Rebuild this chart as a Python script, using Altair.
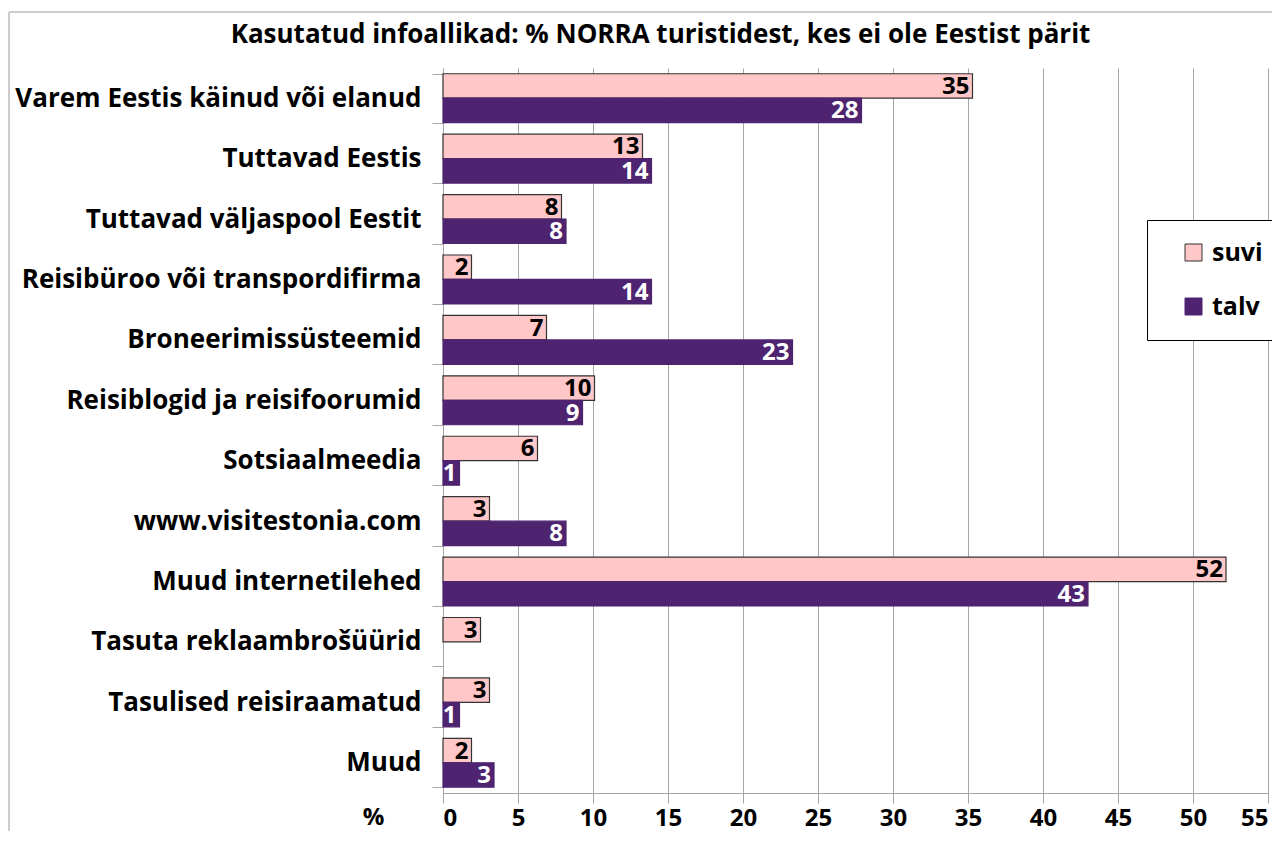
import altair as alt
import pandas as pd

categories = [
    "Varem Eestis käinud või elanud",
    "Tuttavad Eestis",
    "Tuttavad väljaspool Eestit",
    "Reisibüroo või transpordifirma",
    "Broneerimissüsteemid",
    "Reisiblogid ja reisifoorumid",
    "Sotsiaalmeedia",
    "www.visitestonia.com",
    "Muud internetilehed",
    "Tasuta reklaambrošüürid",
    "Tasulised reisiraamatud",
    "Muud",
]
suvi = [35.3, 13.3, 7.9, 1.9, 6.9, 10.1, 6.3, 3.1, 52.2, 2.5, 3.1, 1.9]
talv = [27.9, 13.9, 8.2, 13.9, 23.3, 9.3, 1.1, 8.2, 43.0, None, 1.1, 3.4]
series = ["suvi", "talv"]
x_ticks = list(range(0, 56, 5))
title_text = "Kasutatud infoallikad: % NORRA turistidest, kes ei ole Eestist pärit"

rows = []
for c, s, t in zip(categories, suvi, talv):
    rows.append({"cat": c, "series": "suvi", "value": s})
    if t is not None:
        rows.append({"cat": c, "series": "talv", "value": t})
df = pd.DataFrame(rows)
df["label"] = (df["value"] + 0.5).floordiv(1).astype(int).astype(str)

FONT = "Open Sans"
GRID = "#A6A6A6"
W, H = 825, 725
PAD = {"left": 435, "top": 60, "right": 4, "bottom": 38}

y = alt.Y(
    "cat:N",
    sort=categories,
    scale=alt.Scale(paddingInner=0.19, paddingOuter=0.095),
    axis=alt.Axis(
        title=None,
        labelFont=FONT,
        labelFontSize=26,
        labelFontWeight="bold",
        labelColor="black",
        tickBand="extent",
        tickSize=11,
        tickColor=GRID,
        domainColor=GRID,
        labelPadding=11,
        labelLimit=0,
    ),
)
x = alt.X(
    "value:Q",
    scale=alt.Scale(domain=[0, 55], nice=False),
    axis=alt.Axis(
        values=x_ticks,
        title="%",
        titleFont=FONT,
        titleFontSize=24,
        titleFontWeight="bold",
        titleColor="black",
        titleX=-70,
        titleY=24,
        titleAlign="center",
        titleBaseline="middle",
        labelFont=FONT,
        labelFontSize=24,
        labelFontWeight="bold",
        labelColor="black",
        labelPadding=3,
        tickSize=10,
        tickColor=GRID,
        domainColor=GRID,
        grid=True,
        gridColor=GRID,
        gridWidth=1,
    ),
)
yoff = alt.YOffset("series:N", sort=series, scale=alt.Scale(paddingInner=0, paddingOuter=0))

legend = alt.Legend(
    title=None,
    orient="none",
    legendX=704,
    legendY=152,
    strokeColor="black",
    fillColor="white",
    padding=20,
    symbolOffset=14,
    symbolSize=289,
    symbolType="square",
    symbolStrokeWidth=1,
    labelFont=FONT,
    labelFontSize=25,
    labelFontWeight="bold",
    labelColor="black",
    labelOffset=6,
    rowPadding=28,
)

color = alt.Color("series:N", scale=alt.Scale(domain=series, range=["#FFC7C7", "#4E2370"]), legend=legend)
stroke = alt.Stroke("series:N", scale=alt.Scale(domain=series, range=["#333333", "#4E2370"]), legend=legend)

bars = alt.Chart(df).mark_bar(strokeWidth=1.2).encode(
    y=y, x=x, yOffset=yoff, color=color, stroke=stroke
)
labels = alt.Chart(df).mark_text(
    align="right", baseline="middle", dx=-3, dy=1, font=FONT, fontSize=24, fontWeight="bold"
).encode(
    y=y,
    x=x,
    yOffset=yoff,
    text="label:N",
    color=alt.condition(alt.datum.series == "suvi", alt.value("black"), alt.value("white")),
)

frame_df = pd.DataFrame({"a": [0]})
border_left = alt.Chart(frame_df).mark_rule(color="#BBBBBB", strokeWidth=1.5).encode(
    x=alt.value(-434), y=alt.value(-56), y2=alt.value(H + PAD["bottom"])
)
border_top = alt.Chart(frame_df).mark_rule(color="#BBBBBB", strokeWidth=1.5).encode(
    x=alt.value(-434), x2=alt.value(W + PAD["right"]), y=alt.value(-56)
)

chart = alt.layer(border_left, border_top, bars, labels).properties(
    width=W,
    height=H,
    autosize=alt.AutoSizeParams(type="none"),
    padding=PAD,
    title=alt.Title(
        title_text,
        font=FONT,
        fontSize=26,
        fontWeight="bold",
        color="black",
        anchor="middle",
        frame="group",
        baseline="alphabetic",
        offset=0,
        dx=-195,
        dy=58,
    ),
).configure_view(stroke=None)

chart.save("out.html", embed_options={"renderer": "svg", "actions": False})
